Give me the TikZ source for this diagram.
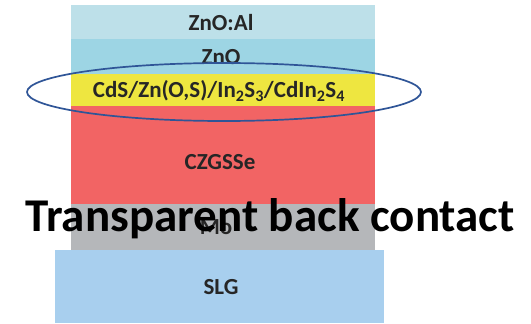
\documentclass[tikz,border=0pt]{standalone}
\usepackage{fontspec}
\setmainfont{Carlito}
\usepackage{tikz}
\usetikzlibrary{positioning,calc}
\usepackage{xcolor}
\definecolor{azo}{RGB}{189,224,233}
\definecolor{izo}{RGB}{157,213,228}
\definecolor{buffer}{RGB}{238,230,64}
\definecolor{absorber}{RGB}{242,100,100}
\definecolor{moly}{RGB}{181,183,186}
\definecolor{glass}{RGB}{168,207,238}
\definecolor{ringblue}{RGB}{47,85,151}

\begin{document}
\begin{tikzpicture}[x=1pt,y=-1pt,
    lbl/.style={font=\bfseries\fontsize{23}{25}\selectfont, text=black!85, inner sep=0pt}]
\useasboundingbox (0,0) rectangle (531,324);

% Layer stack
\foreach \ya/\yb/\fillcol in {5/39/azo, 39/74/izo, 74/106/buffer,
    106/204/absorber, 204/250/moly} {
    \fill[\fillcol] (71,\ya) rectangle (375,\yb);
}
\fill[glass] (55,250) rectangle (384,323);

% Layer labels
\node[lbl] (azo) at (221,23) {ZnO:Al};
\node[lbl] (izo) at (221,57) {ZnO};
\node[lbl] (buf) at (219,91) {CdS/Zn(O,S)/In\textsubscript{2}S\textsubscript{3}/CdIn\textsubscript{2}S\textsubscript{4}};
\node[lbl] (czgsse) at (220,162) {CZGSSe};
\node[lbl] (mo) at (216,227) {Mo};
\node[lbl] (slg) at (221,287) {SLG};

% Highlight of the buffer layer
\draw[ringblue, line width=1.7pt] (224,92) ellipse [x radius=197, y radius=29];

% Overlay caption
\node[font=\bfseries\fontsize{47}{52}\selectfont, inner sep=0pt] (caption) at (270,219) {Transparent back contact};

\end{tikzpicture}
\end{document}
